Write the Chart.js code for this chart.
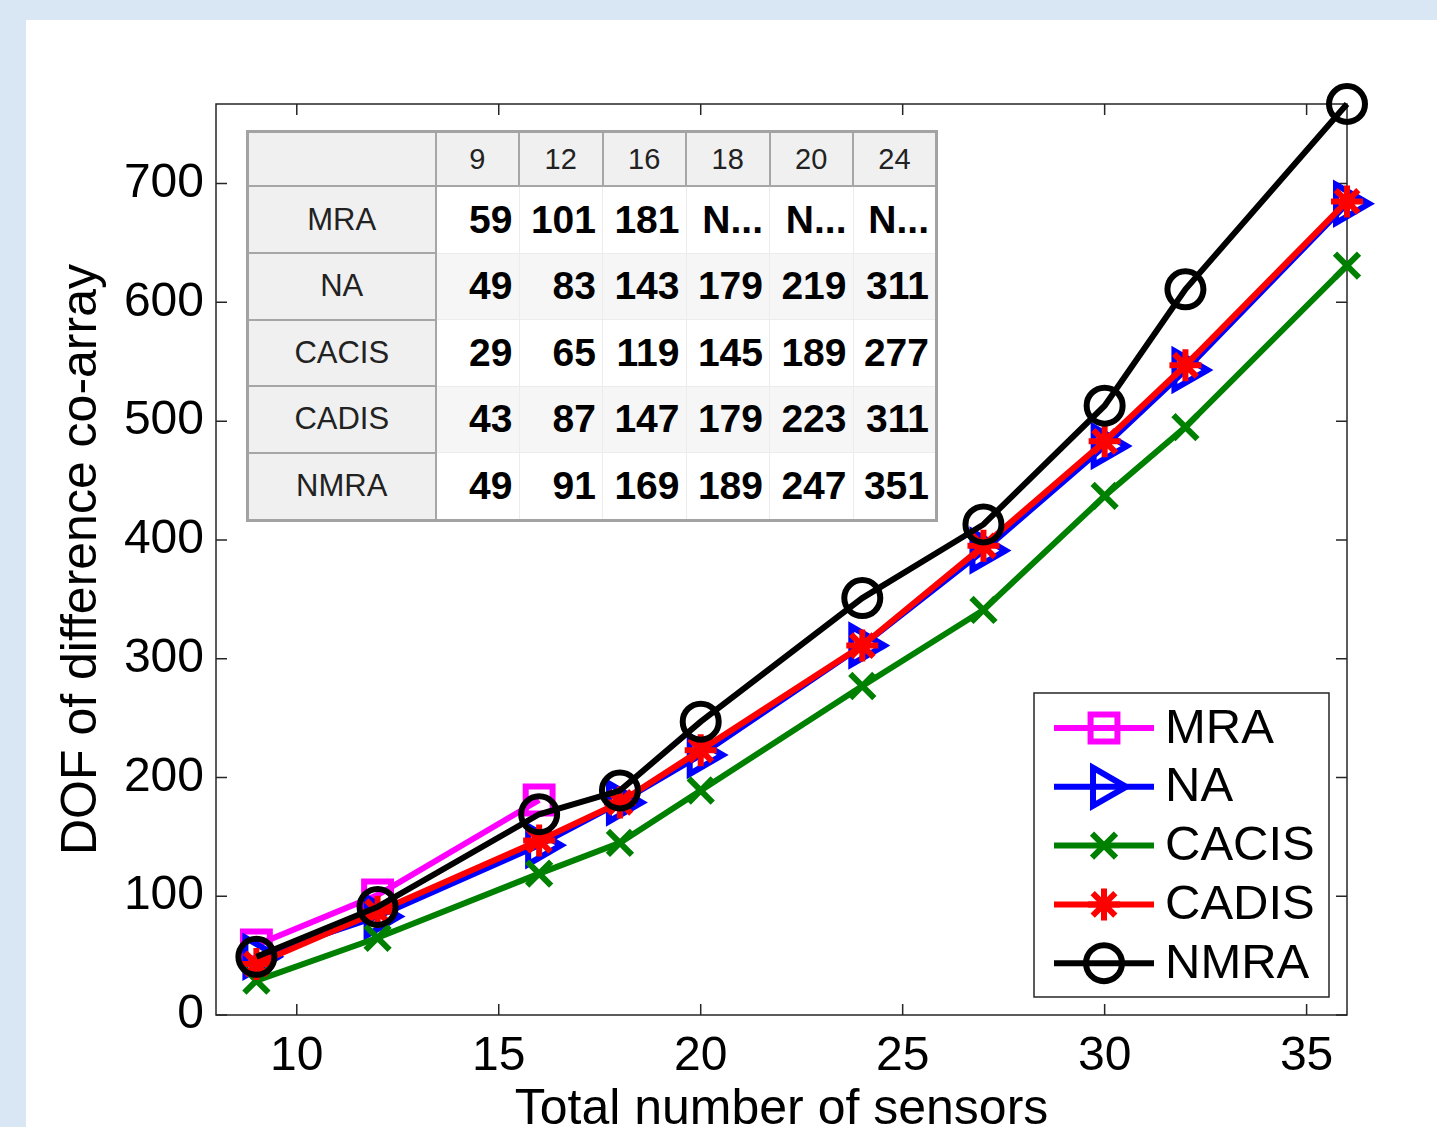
<!DOCTYPE html>
<html>
<head>
<meta charset="utf-8">
<script src="https://cdn.jsdelivr.net/npm/chart.js@4.4.1/dist/chart.umd.min.js"></script>
<style>
  html, body { margin: 0; padding: 0; width: 1437px; height: 1127px; overflow: hidden; background: #d9e7f5; }
  #paper { position: absolute; left: 26px; top: 20px; width: 1411px; height: 1107px; background: #fff; }
  #wrap { position: absolute; left: 0; top: 0; width: 1437px; height: 1127px; }
  #inset {
    position: absolute; left: 246px; top: 130px;
    border-collapse: collapse; table-layout: fixed;
    border: 3px solid #a3a3a3;
    font-family: "Liberation Sans", Arial, sans-serif;
    background: #fff;
  }
  #inset th {
    background: #f0f0f0; border: 2px solid #a6a6a6;
    font-weight: normal; color: #222; font-size: 31px;
    padding: 0; text-align: center;
  }
  #inset thead th { height: 52px; font-size: 29px; }
  #inset td {
    height: 65.5px; padding: 0 6px 0 0; text-align: right;
    font-weight: bold; font-size: 39px; color: #000;
    border: 1px solid #ececec;
  }
  #inset tbody tr:nth-child(even) td { background: #f6f6f6; }
</style>
</head>
<body>
<div id="paper"></div>
<div id="wrap"><canvas id="dofChart"></canvas></div>
<table id="inset"></table>
<script>
// total number of sensors
const sensors = [9, 12, 16, 18, 20, 24, 27, 30, 32, 36];

// DOF of difference co-array per array type
const mra   = [59, 101, 181, null, null, null, null, null, null, null];
const na    = [49, 83, 143, 179, 219, 311, 391, 479, 543, 683];
const cacis = [29, 65, 119, 145, 189, 277, 341, 437, 495, 631];
const cadis = [43, 87, 147, 179, 223, 311, 395, 483, 547, 685];
const nmra  = [49, 91, 169, 189, 247, 351, 413, 513, 611, 767];

const xTicks = [10, 15, 20, 25, 30, 35];
const yTicks = [0, 100, 200, 300, 400, 500, 600, 700];

// columns shown in the inset table
const tableCols = [9, 12, 16, 18, 20, 24];

const FONT = '"Liberation Sans", Arial, sans-serif';

function series(label, values, color, style, radius, rotation, order) {
	return {
		label: label,
		data: sensors.map((n, i) => ({ x: n, y: values[i] })),
		borderColor: color,
		backgroundColor: color,
		borderWidth: 6,
		pointStyle: style,
		pointRadius: radius,
		pointRotation: rotation,
		pointBorderWidth: 6,
		pointBorderColor: color,
		pointBackgroundColor: "rgba(0,0,0,0)",
		pointHoverRadius: radius,
		spanGaps: false,
		clip: false,
		tension: 0,
		order: order,
	};
}

const datasets = [
	series("MRA", mra, "#ff00ff", "rect", 19, 0, 5),
	series("NA", na, "#0000ff", "triangle", 22, 90, 4),
	series("CACIS", cacis, "#008000", "crossRot", 17, 0, 3),
	series("CADIS", cadis, "#ff0000", "star", 16, 0, 2),
	series("NMRA", nmra, "#000000", "circle", 18, 0, 1),
];

// inset table built from the same arrays
const table = document.getElementById("inset");
let html = '<colgroup><col style="width:188px">' + tableCols.map(() => '<col style="width:83.5px">').join("") + "</colgroup>";
html += "<thead><tr><th></th>" + tableCols.map((c) => "<th>" + c + "</th>").join("") + "</tr></thead><tbody>";
[["MRA", mra], ["NA", na], ["CACIS", cacis], ["CADIS", cadis], ["NMRA", nmra]].forEach(([name, vals]) => {
	html += "<tr><th>" + name + "</th>";
	tableCols.forEach((c) => {
		const v = vals[sensors.indexOf(c)];
		html += "<td>" + (v === null ? "N..." : v) + "</td>";
	});
	html += "</tr>";
});
table.innerHTML = html + "</tbody>";

const axesBox = {
	id: "axesBox",
	beforeDatasetsDraw(chart) {
		const { ctx, chartArea: a, scales } = chart;
		ctx.save();
		ctx.strokeStyle = "#262626";
		ctx.lineWidth = 1.5;
		ctx.strokeRect(a.left, a.top, a.right - a.left, a.bottom - a.top);
		ctx.beginPath();
		scales.x.ticks.forEach((t) => {
			const px = scales.x.getPixelForValue(t.value);
			ctx.moveTo(px, a.bottom);
			ctx.lineTo(px, a.bottom - 11);
			ctx.moveTo(px, a.top);
			ctx.lineTo(px, a.top + 11);
		});
		scales.y.ticks.forEach((t) => {
			const py = scales.y.getPixelForValue(t.value);
			ctx.moveTo(a.left, py);
			ctx.lineTo(a.left + 11, py);
			ctx.moveTo(a.right, py);
			ctx.lineTo(a.right - 11, py);
		});
		ctx.stroke();
		ctx.restore();
	},
};

const insetLegend = {
	id: "insetLegend",
	afterDraw(chart) {
		const { ctx, chartArea } = chart;
		const w = 295, h = 304;
		const x0 = chartArea.right - 18 - w;
		const y0 = chartArea.bottom - 18 - h;
		ctx.save();
		ctx.fillStyle = "#fff";
		ctx.fillRect(x0, y0, w, h);
		ctx.strokeStyle = "#262626";
		ctx.lineWidth = 1.5;
		ctx.strokeRect(x0, y0, w, h);
		chart.data.datasets.forEach((ds, i) => {
			const y = y0 + 35 + i * 58.8;
			ctx.strokeStyle = ds.borderColor;
			ctx.lineWidth = ds.borderWidth;
			ctx.beginPath();
			ctx.moveTo(x0 + 20, y);
			ctx.lineTo(x0 + 120, y);
			ctx.stroke();
			ctx.fillStyle = "rgba(0,0,0,0)";
			ctx.lineWidth = ds.pointBorderWidth;
			Chart.helpers.drawPoint(ctx, {
				pointStyle: ds.pointStyle,
				radius: ds.pointRadius,
				rotation: ds.pointRotation,
				borderWidth: ds.pointBorderWidth,
			}, x0 + 70, y);
			ctx.fillStyle = "#000";
			ctx.font = "49px " + FONT;
			ctx.textAlign = "left";
			ctx.textBaseline = "middle";
			ctx.fillText(ds.label, x0 + 131, y + 1);
		});
		ctx.restore();
	},
};

new Chart(document.getElementById("dofChart"), {
	type: "line",
	data: { datasets: datasets },
	options: {
		responsive: true,
		maintainAspectRatio: false,
		animation: false,
		events: [],
		layout: { padding: { top: 104, right: 90, left: 0, bottom: 0 } },
		plugins: {
			legend: { display: false },
			tooltip: { enabled: false },
		},
		scales: {
			x: {
				type: "linear",
				min: 8,
				max: 36,
				grid: { display: false, drawTicks: false },
				border: { display: false },
				afterBuildTicks: (scale) => { scale.ticks = xTicks.map((v) => ({ value: v })); },
				afterFit: (scale) => { scale.height = 112; },
				ticks: {
					color: "#000",
					padding: 13,
					maxRotation: 0,
					font: { family: FONT, size: 48 },
				},
				title: {
					display: true,
					text: "Total number of sensors",
					color: "#000",
					padding: { top: 0, bottom: -8 },
					font: { family: FONT, size: 50, lineHeight: 1 },
				},
			},
			y: {
				type: "linear",
				min: 0,
				max: 767,
				grid: { display: false, drawTicks: false },
				border: { display: false },
				afterBuildTicks: (scale) => { scale.ticks = yTicks.map((v) => ({ value: v })); },
				afterFit: (scale) => { scale.width = 216; },
				ticks: {
					color: "#000",
					padding: 12,
					font: { family: FONT, size: 48 },
				},
				title: {
					display: true,
					text: "DOF of difference co-array",
					color: "#000",
					padding: { top: 57, bottom: 0 },
					font: { family: FONT, size: 50, lineHeight: 1 },
				},
			},
		},
	},
	plugins: [axesBox, insetLegend],
});
</script>
</body>
</html>
